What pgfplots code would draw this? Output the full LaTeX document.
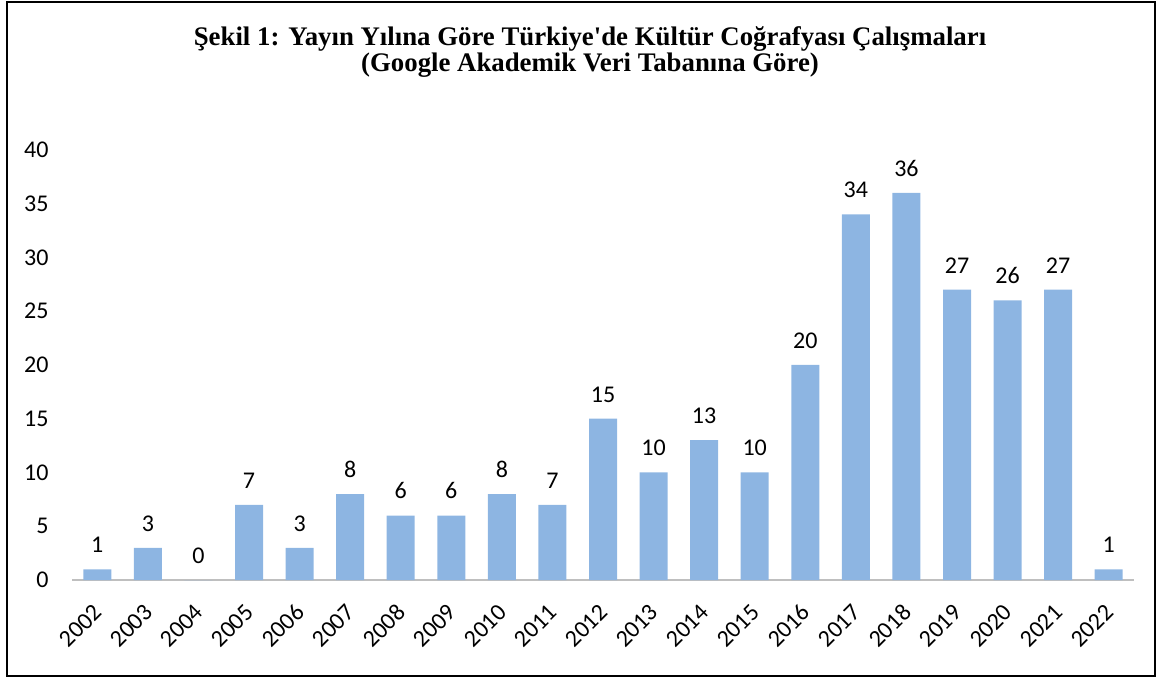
\documentclass[border=0pt]{standalone}
\usepackage{pgfplots}
\pgfplotsset{compat=1.18}
\usepackage{fontspec}
\setmainfont{Carlito}
\newfontfamily\serifbold{Liberation Serif}
\definecolor{barblue}{RGB}{141,181,226}
\definecolor{gridgray}{RGB}{236,236,236}
\definecolor{axgray}{RGB}{191,191,191}
\begin{document}
\begin{tikzpicture}[x=1pt,y=1pt]
\path[use as bounding box] (0,0) rectangle (1161,680);
\draw[line width=2pt,black] (7,4) rectangle (1155,678);
\node[align=center] at (590,628)
  {\serifbold\bfseries\fontsize{26.8}{25.5}\selectfont Şekil 1: Yayın Yılına Göre Türkiye'de Kültür Coğrafyası Çalışmaları\\
   \serifbold\bfseries\fontsize{26.8}{25.5}\selectfont (Google Akademik Veri Tabanına Göre)};
\begin{axis}[
  at={(97.3pt,100pt)}, anchor=origin,
  scale only axis, width=1062pt, height=430pt,
  xmin=-0.5, xmax=20.5, ymin=0, ymax=40,
  ytick={0,5,...,40},
  yticklabels={},
  xtick={0,...,20},
  xticklabels={},
  axis x line*=bottom, axis y line=none,
  x axis line style={axgray, line width=2pt, -},
  ymajorgrids, grid style={gridgray, line width=1pt},
  major tick length=0pt,
  /pgf/number format/assume math mode=true,
  clip=false,
]
\addplot[ybar, bar width=28pt, fill=barblue, draw=none,
  nodes near coords, nodes near coords style={font=\fontsize{24}{28}\selectfont, yshift=13pt}]
 coordinates {(0,1)(1,3)(2,0)(3,7)(4,3)(5,8)(6,6)(7,6)(8,8)(9,7)(10,15)(11,10)(12,13)(13,10)(14,20)(15,34)(16,36)(17,27)(18,26)(19,27)(20,1)};
\pgfplotsinvokeforeach{0,5,...,40}{\node[anchor=east,font=\fontsize{24}{28}\selectfont] at (axis cs:-0.5,#1) [xshift=-20pt] {#1};}
\pgfplotsinvokeforeach{0,...,20}{\node[xshift=3pt,yshift=-26pt,rotate=45,anchor=east,font=\fontsize{24}{28}\selectfont] at (axis cs:#1,0) {\pgfmathparse{int(2002+#1)}\pgfmathresult};}
\end{axis}
\end{tikzpicture}
\end{document}
